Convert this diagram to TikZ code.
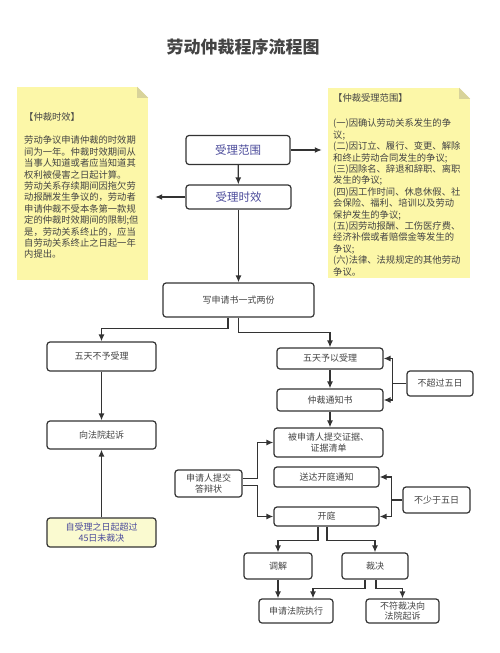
\documentclass[tikz,border=0pt]{standalone}
\usepackage{fontspec}
\setmainfont{Noto Sans CJK SC}
\usetikzlibrary{arrows.meta, calc}

\definecolor{boxline}{HTML}{333333}
\definecolor{boxtext}{HTML}{444444}
\definecolor{keytext}{HTML}{4B4B9B}
\definecolor{notefill}{HTML}{FCF7A8}
\definecolor{notefold}{HTML}{D8D39A}
\definecolor{latefill}{HTML}{FAFAD0}

\newcommand{\tightlines}[1]{\fontsize{9.3}{#1}\selectfont\lineskiplimit=-100pt\relax\lineskip=0pt\relax}
\newcommand{\boxfont}{\fontsize{9}{10.7}\selectfont\lineskiplimit=-100pt\relax}

\tikzset{
    stepbox/.style={draw=boxline, line width=1.2pt, rounded corners=3pt, fill=white,
        text=boxtext, font=\boxfont, align=center, inner sep=0pt},
    keybox/.style={stepbox, text=keytext, font=\fontsize{11.5}{13}\selectfont},
    notebox/.style={fill=notefill, inner sep=0pt},
    notetext/.style={anchor=north west, align=left, text width=140pt, inner sep=0pt, text=boxtext},
    arr/.style={draw=boxline, line width=1.3pt, -{Latex[length=7pt,width=6pt]}},
    bar/.style={draw=boxline, line width=1.3pt}
}

\begin{document}
\begin{tikzpicture}[x=1pt, y=-1pt]
            \useasboundingbox (0,0) rectangle (500,653);

            \node[font=\fontsize{17}{19}\selectfont\bfseries, text=boxtext] (title) at (243,47) {劳动仲裁程序流程图};

            % notes on both sides
            \node[notebox, minimum width=131pt, minimum height=193pt] (timenote) at (82.5,183.5) {};
            \fill[white] (timenote.north east) -- ++(-11,0) -- ++(11,11) -- cycle;
            \fill[notefold] ($(timenote.north east)+(-11,0)$) -- ++(11,11) -- ++(-11,0) -- cycle;
            \node[notetext, font=\tightlines{11.4}] (timetext) at (24,112) {%
                【仲裁时效】\\[12.5pt]
                劳动争议申请仲裁的时效期\\
                间为一年。仲裁时效期间从\\
                当事人知道或者应当知道其\\
                权利被侵害之日起计算。\\
                劳动关系存续期间因拖欠劳\\
                动报酬发生争议的，劳动者\\
                申请仲裁不受本条第一款规\\
                定的仲裁时效期间的限制;但\\
                是，劳动关系终止的，应当\\
                自劳动关系终止之日起一年\\
                内提出。\par};

            \node[notebox, minimum width=142pt, minimum height=190pt] (rangenote) at (399,183) {};
            \fill[white] (rangenote.north east) -- ++(-11,0) -- ++(11,11) -- cycle;
            \fill[notefold] ($(rangenote.north east)+(-11,0)$) -- ++(11,11) -- ++(-11,0) -- cycle;
            \node[notetext, font=\tightlines{11.4}] (rangetext) at (333,93) {%
                【仲裁受理范围】\\[14.5pt]
                (一)因确认劳动关系发生的争\\
                议;\\
                (二)因订立、履行、变更、解除\\
                和终止劳动合同发生的争议;\\
                (三)因除名、辞退和辞职、离职\\
                发生的争议;\\
                (四)因工作时间、休息休假、社\\
                会保险、福利、培训以及劳动\\
                保护发生的争议;\\
                (五)因劳动报酬、工伤医疗费、\\
                经济补偿或者赔偿金等发生的\\
                争议;\\
                (六)法律、法规规定的其他劳动\\
                争议。\par};

            % main column
            \node[keybox, minimum width=104pt, minimum height=29pt] (fanwei) at (238,150) {受理范围};
            \node[keybox, minimum width=105pt, minimum height=24pt] (shixiao) at (238.5,197) {受理时效};
            \node[stepbox, minimum width=151pt, minimum height=34pt] (shenqing) at (238.5,300) {写申请书一式两份};

            \node[stepbox, minimum width=109pt, minimum height=29pt] (buyu) at (101.5,356.5) {五天不予受理};
            \node[stepbox, minimum width=109pt, minimum height=28pt] (qisu) at (101.5,435) {向法院起诉};
            \node[stepbox, fill=latefill, text=keytext, minimum width=109pt, minimum height=29pt] (chaoguo) at (101.5,532.5) {自受理之日起超过\\45日未裁决};

            \node[stepbox, minimum width=106pt, minimum height=21pt] (yuyi) at (330,358.5) {五天予以受理};
            \node[stepbox, minimum width=106pt, minimum height=22pt] (tongzhi) at (330,400) {仲裁通知书};
            \node[stepbox, minimum width=66pt, minimum height=25pt] (wuri1) at (440,383.5) {不超过五日};
            \node[stepbox, minimum width=109pt, minimum height=29pt] (zhengju) at (328.5,442.5) {被申请人提交证据、\\证据清单};
            \node[stepbox, minimum width=105pt, minimum height=20pt] (songda) at (326.5,477) {送达开庭通知};
            \node[stepbox, minimum width=67pt, minimum height=26pt] (wuri2) at (436.5,500) {不少于五日};
            \node[stepbox, minimum width=105pt, minimum height=19pt] (kaiting) at (326.5,516.5) {开庭};
            \node[stepbox, minimum width=67pt, minimum height=27pt] (dabian) at (208.5,483.5) {申请人提交\\答辩状};

            \node[stepbox, minimum width=68pt, minimum height=26pt] (tiaojie) at (278,566) {调解};
            \node[stepbox, minimum width=66pt, minimum height=26pt] (caijue) at (375,566) {裁决};
            \node[stepbox, minimum width=74pt, minimum height=24pt] (zhixing) at (296,611) {申请法院执行};
            \node[stepbox, minimum width=73pt, minimum height=24pt] (fuqisu) at (402.5,611) {不符裁决向\\法院起诉};

            % connectors
            \draw[arr, shorten >=6pt] (fanwei.east) -- (fanwei.east -| rangenote.west);
            \draw[arr, shorten >=7pt] (shixiao.west) -- (shixiao.west -| timenote.east);
            \draw[arr] (fanwei) -- (shixiao);
            \draw[arr] (shixiao) -- (shenqing);

            \draw[arr] ([xshift=-10.5pt]shenqing.south) -- ++(0,11) -| (buyu.north);
            \draw[arr] (shenqing.south) -- ++(0,15) -| (yuyi.north);
            \draw[arr] (buyu) -- (qisu);
            \draw[arr] (chaoguo) -- (qisu);

            \draw[arr] (yuyi) -- (tongzhi);
            \draw[bar] (wuri1.west) -- ++(-14,0) coordinate (wuri1bar);
            \draw[arr] (wuri1bar) |- (yuyi.east);
            \draw[arr] (wuri1bar) |- (tongzhi.east);
            \draw[arr] (tongzhi.south) -- (tongzhi.south |- zhengju.north);

            \draw[arr] ([yshift=5pt]dabian.east) -- ++(15,0) |- (zhengju.west);
            \draw[arr] ([yshift=-2pt]dabian.east) -- ++(15,0) |- (kaiting.west);
            \draw[bar] (wuri2.west) -- ++(-11,0) coordinate (wuri2bar);
            \draw[arr] (wuri2bar) |- (songda.east);
            \draw[arr] (wuri2bar) |- (kaiting.east);

            \draw[arr] ([xshift=-8.5pt]kaiting.south) -- ++(0,14) -| (tiaojie.north);
            \draw[arr] ([xshift=0.5pt]kaiting.south) -- ++(0,14) -| (caijue.north);
            \draw[arr] (tiaojie.south) -- (tiaojie.south |- zhixing.north);
            \draw[arr] ([xshift=-10pt]caijue.south) -- ++(0,9) -| ([xshift=17pt]zhixing.north);
            \draw[arr] ([xshift=1pt]caijue.south) -- ++(0,9) -| (fuqisu.north);
        \end{tikzpicture}
\end{document}
